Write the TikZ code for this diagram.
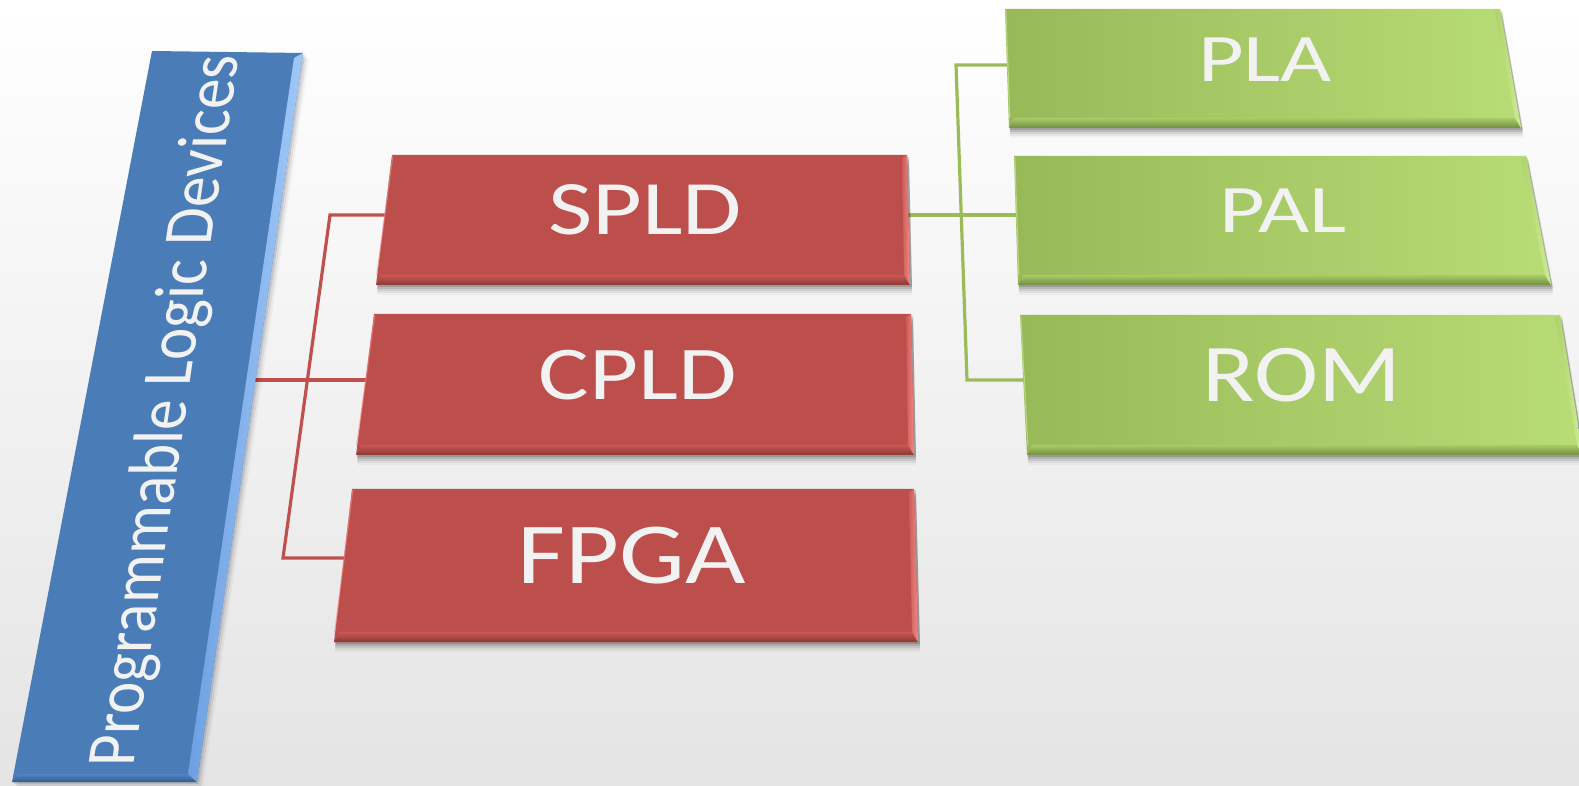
\documentclass[tikz,border=0pt]{standalone}
\usepackage{fontspec}
\usepackage{graphicx}
\setmainfont{Carlito}
\usetikzlibrary{calc}

\definecolor{bgBottom}{RGB}{228,228,228}
\definecolor{barFace}{RGB}{74,124,184}
\definecolor{barLightA}{RGB}{110,160,225}
\definecolor{barLightB}{RGB}{160,200,248}
\definecolor{barDarkA}{RGB}{80,132,195}
\definecolor{barDarkB}{RGB}{52,92,140}
\definecolor{redFace}{RGB}{188,78,75}
\definecolor{redEdgeA}{RGB}{205,92,88}
\definecolor{redEdgeB}{RGB}{244,136,132}
\definecolor{redBandA}{RGB}{202,88,84}
\definecolor{redBandB}{RGB}{140,55,53}
\definecolor{greenFaceL}{RGB}{152,185,88}
\definecolor{greenFaceR}{RGB}{184,220,118}
\definecolor{greenEdgeA}{RGB}{175,210,108}
\definecolor{greenEdgeB}{RGB}{205,238,145}
\definecolor{greenBandA}{RGB}{168,204,104}
\definecolor{greenBandB}{RGB}{116,142,64}
\definecolor{lineRed}{RGB}{192,80,77}
\definecolor{lineGreen}{RGB}{155,187,89}
\definecolor{labelWhite}{RGB}{242,242,242}

\tikzset{
  connred/.style={draw=lineRed, line width=3.2pt, line join=miter},
  conngreen/.style={draw=lineGreen, line width=3.2pt, line join=miter},
  boxlabel/.style={text=labelWhite, inner sep=0pt, anchor=base},
  redface/.style={fill=redFace},
  greenface/.style={left color=greenFaceL, right color=greenFaceR},
}

% A bevelled slab given by the corners <name>-tl, -tr, -br, -bl
% #1 name, #2 face style, #3/#4 side edge colours, #5/#6 lower band colours
\newcommand\bevelslab[6]{%
  \foreach \d/\o in {2/0.14,4/0.11,6/0.08,8/0.05,10/0.03}{%
    \fill[black,opacity=\o] ($(#1-tl)+(1,-\d)$) -- ($(#1-tr)+(2,-\d)$) --
      ($(#1-br)+(2,-\d)$) -- ($(#1-bl)+(1,-\d)$) -- cycle;}
  \path[#2] (#1-tl) -- (#1-tr) -- (#1-br) -- (#1-bl) -- cycle;
  % lower bevel band
  \shade[top color=#5, bottom color=#6]
    (#1-bl) -- (#1-br) -- ($(#1-br)+(-6,10)$) -- ($(#1-bl)+(5,10)$) -- cycle;
  % right bevel band
  \shade[left color=#3, right color=#4]
    (#1-tr) -- (#1-br) -- ($(#1-br)+(-6,10)$) -- ($(#1-tr)+(-5,-3)$) -- cycle;
  % thin highlight on the left edge
  \draw[#4, line width=1.2pt, opacity=0.6, line cap=butt]
    ($(#1-tl)+(0.8,-1)$) -- ($(#1-bl)+(0.8,10)$);
}

\begin{document}
\begin{tikzpicture}[x=1pt,y=1pt]
  \useasboundingbox (0,0) rectangle (1579,785);
  \clip (0,0) rectangle (1579,785);
  % backdrop
  \shade[top color=white, bottom color=bgBottom] (0,0) rectangle (1579,785);

  % corner points of the slabs
  \coordinate (bar-tl) at (152,734);  \coordinate (bar-tr) at (303,732);
  \coordinate (bar-br) at (197,3);    \coordinate (bar-bl) at (12,3);
  \coordinate (spld-tl) at (392,630); \coordinate (spld-tr) at (907,630);
  \coordinate (spld-br) at (910,500); \coordinate (spld-bl) at (376,500);
  \coordinate (cpld-tl) at (374,471); \coordinate (cpld-tr) at (911,471);
  \coordinate (cpld-br) at (914,330); \coordinate (cpld-bl) at (356,330);
  \coordinate (fpga-tl) at (352,296); \coordinate (fpga-tr) at (914,296);
  \coordinate (fpga-br) at (918,143); \coordinate (fpga-bl) at (334,143);
  \coordinate (pla-tl) at (1005,776); \coordinate (pla-tr) at (1500,776);
  \coordinate (pla-br) at (1521,657); \coordinate (pla-bl) at (1009,657);
  \coordinate (pal-tl) at (1014,629); \coordinate (pal-tr) at (1526,629);
  \coordinate (pal-br) at (1551,500); \coordinate (pal-bl) at (1018,500);
  \coordinate (rom-tl) at (1020,470); \coordinate (rom-tr) at (1560,470);
  \coordinate (rom-br) at (1583,330); \coordinate (rom-bl) at (1027,330);

  % connector ends on the slab edges and elbows
  \coordinate (bar-e)  at (255,405);
  \coordinate (spld-w) at (386,570);
  \coordinate (cpld-w) at (367,405);
  \coordinate (fpga-w) at (345,227);
  \coordinate (rj-top) at (330,570);
  \coordinate (rj-bot) at (283,227);
  \coordinate (spld-e) at (908,570);
  \coordinate (pla-w)  at (1008,720);
  \coordinate (pal-w)  at (1017,570);
  \coordinate (rom-w)  at (1024,405);
  \coordinate (gj-top) at (956,720);
  \coordinate (gj-bot) at (967,405);

  % connectors (behind the slabs)
  \draw[connred] (spld-w) -- (rj-top) -- (rj-bot) -- (fpga-w);
  \draw[connred] (bar-e) -- (cpld-w);
  \draw[conngreen] (pla-w) -- (gj-top) -- (gj-bot) -- (rom-w);
  \draw[conngreen] (spld-e) -- (pal-w);

  % root bar
  \foreach \d/\o in {2/0.10,4/0.07,6/0.04}{%
    \fill[black,opacity=\o] ($(bar-tl)+(\d,-\d)$) -- ($(bar-tr)+(\d,-\d)$) --
      ($(bar-br)+(\d,-\d)$) -- ($(bar-bl)+(\d,-\d)$) -- cycle;}
  \fill[barFace] (bar-tl) -- (bar-tr) -- (bar-br) -- (bar-bl) -- cycle;
  \shade[top color=barDarkA, bottom color=barDarkB]
    (bar-bl) -- (bar-br) -- ($(bar-br)+(-9,8)$) -- ($(bar-bl)+(6,8)$) -- cycle;
  \shade[left color=barLightA, right color=barLightB]
    (bar-tr) -- (bar-br) -- ($(bar-br)+(-9,8)$) -- ($(bar-tr)+(-9,-5)$) -- cycle;

  % child slabs
  \bevelslab{spld}{redface}{redEdgeA}{redEdgeB}{redBandA}{redBandB}
  \bevelslab{cpld}{redface}{redEdgeA}{redEdgeB}{redBandA}{redBandB}
  \bevelslab{fpga}{redface}{redEdgeA}{redEdgeB}{redBandA}{redBandB}
  \bevelslab{pla}{greenface}{greenEdgeA}{greenEdgeB}{greenBandA}{greenBandB}
  \bevelslab{pal}{greenface}{greenEdgeA}{greenEdgeB}{greenBandA}{greenBandB}
  \bevelslab{rom}{greenface}{greenEdgeA}{greenEdgeB}{greenBandA}{greenBandB}

  % labels
  \begin{scope}[shift={(168,374)}]
    \node[text=labelWhite, inner sep=0pt, cm={0.13,0.875,-1,0,(0,0)}, transform shape,
          font=\fontsize{70}{70}\selectfont] (root) at (0,0) {Programmable Logic Devices};
  \end{scope}
  \node[boxlabel, font=\fontsize{77}{77}\selectfont] (spld) at (645,550) {\scalebox{1.25}[1]{SPLD}};
  \node[boxlabel, font=\fontsize{76}{76}\selectfont] (cpld) at (638,385) {\scalebox{1.25}[1]{CPLD}};
  \node[boxlabel, font=\fontsize{87}{87}\selectfont] (fpga) at (632,202) {\scalebox{1.2}[1]{FPGA}};
  \node[boxlabel, font=\fontsize{68}{68}\selectfont] (pla) at (1265,703) {\scalebox{1.3}[1]{PLA}};
  \node[boxlabel, font=\fontsize{68}{68}\selectfont] (pal) at (1283,552) {\scalebox{1.3}[1]{PAL}};
  \node[boxlabel, font=\fontsize{82}{82}\selectfont] (rom) at (1302,383) {\scalebox{1.18}[1]{ROM}};
\end{tikzpicture}
\end{document}
